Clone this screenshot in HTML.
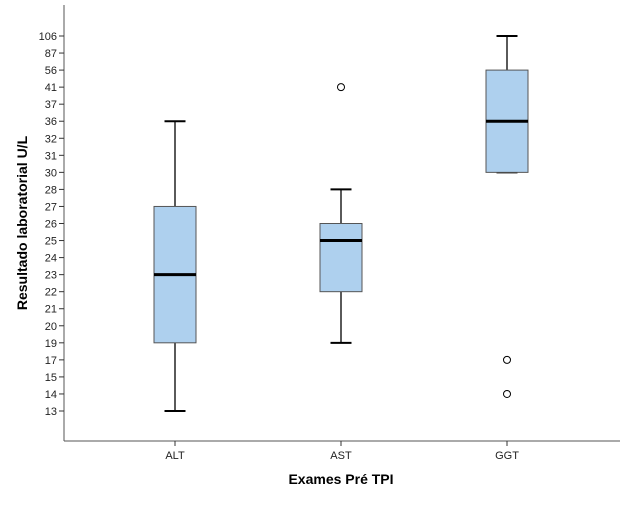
<!DOCTYPE html>
<html><head><meta charset="utf-8"><style>
body{margin:0;background:#fff;font-family:"Liberation Sans",Arial,sans-serif;}
svg text{font-family:"Liberation Sans",Arial,sans-serif;}
</style></head><body>
<svg id="c" width="626" height="501" xmlns="http://www.w3.org/2000/svg"></svg>
<script>
const yTicks=[13,14,15,17,19,20,21,22,23,24,25,26,27,28,30,31,32,36,37,41,56,87,106];
const categories=["ALT","AST","GGT"];
const whiskLow=[13,19,30];
const q1=[19,22,30];
const medians=[23,25,36];
const q3=[27,26,56];
const whiskHigh=[36,28,106];
const outliers=[[],[41],[17,14]];

const svg=document.getElementById('c');
const NS="http://www.w3.org/2000/svg";
function el(t,a,p){const e=document.createElementNS(NS,t);for(const k in a)e.setAttribute(k,a[k]);(p||svg).appendChild(e);return e;}
const x0=64,yTop=5,yBot=441,y13=411,y106=36;
function y(v){let i=yTicks.indexOf(v);if(i<0){for(i=0;i<yTicks.length-1&&yTicks[i+1]<v;i++);const a=yTicks[i],b=yTicks[i+1]||a+1;const f=(v-a)/(b-a);return y13-(i+f)*(y13-y106)/(yTicks.length-1);}return y13-i*(y13-y106)/(yTicks.length-1);}
function x(i){return 175+i*166;}

let e=el('line',{x1:x0,y1:yTop,x2:x0,y2:yBot,stroke:'#555','stroke-width':1});

e=el('line',{x1:x0,y1:yBot,x2:620,y2:yBot,stroke:'#555','stroke-width':1});


yTicks.forEach(v=>{
  const yy=y(v);
  const l=el('line',{x1:x0-5,y1:yy,x2:x0,y2:yy,stroke:'#333'});
  
  const t=el('text',{x:x0-7,y:yy+4,'text-anchor':'end','font-size':11,fill:'#222'});
  
  t.textContent=v;
});
categories.forEach((c,i)=>{
  const xx=x(i);
  const l=el('line',{x1:xx,y1:yBot,x2:xx,y2:yBot+5,stroke:'#333'});
  
  const t=el('text',{x:xx,y:yBot+18,'text-anchor':'middle','font-size':11,fill:'#222'});
  
  t.textContent=c;
  const g=el('g',{});
  
  el('line',{x1:xx,y1:y(whiskHigh[i]),x2:xx,y2:y(q3[i]),stroke:'#000','stroke-width':1.3},g);
  el('line',{x1:xx,y1:y(q1[i]),x2:xx,y2:y(whiskLow[i]),stroke:'#000','stroke-width':1.3},g);
  el('line',{x1:xx-10.5,y1:y(whiskHigh[i]),x2:xx+10.5,y2:y(whiskHigh[i]),stroke:'#000','stroke-width':2},g);
  el('line',{x1:xx-10.5,y1:y(whiskLow[i]),x2:xx+10.5,y2:y(whiskLow[i]),stroke:'#000','stroke-width':2},g);
  el('rect',{x:xx-21,y:y(q3[i]),width:42,height:y(q1[i])-y(q3[i]),fill:'#aed0ee',stroke:'#555','stroke-width':1},g);
  el('line',{x1:xx-21,y1:y(medians[i]),x2:xx+21,y2:y(medians[i]),stroke:'#000','stroke-width':3},g);
  outliers[i].forEach(o=>{
    const ci=el('circle',{cx:xx,cy:y(o),r:3.5,fill:'#fff',stroke:'#000','stroke-width':1});
    
  });
});
let t=el('text',{x:341,y:484,'text-anchor':'middle','font-size':14,'font-weight':'bold',fill:'#000'});

t.textContent='Exames Pré TPI';
t=el('text',{x:0,y:0,'text-anchor':'middle','font-size':14,'font-weight':'bold',fill:'#000',transform:'translate(27,223) rotate(-90)'});

t.textContent='Resultado laboratorial U/L';
</script>
</body></html>
